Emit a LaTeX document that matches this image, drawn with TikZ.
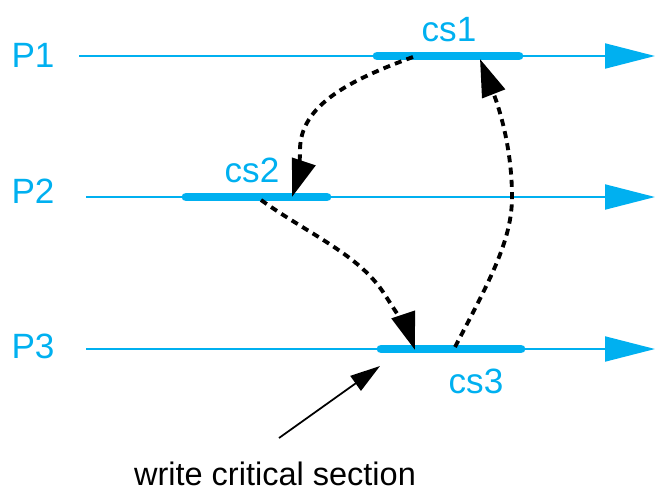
\documentclass[tikz,border=0pt]{standalone}
\usepackage{fontspec}
\setmainfont{Liberation Sans}
\usepackage{xcolor}
\usetikzlibrary{positioning,calc,arrows.meta}
\definecolor{procblue}{RGB}{0,176,240}

\begin{document}
\begin{tikzpicture}[x=0.02cm, y=-0.02cm,
		proc/.style={draw=procblue, line width=1.1pt, -{Triangle[length=1cm, width=0.5cm]}},
		csbar/.style={draw=procblue, line width=5pt, line cap=round},
		lbl/.style={text=procblue, font=\fontsize{20}{24}\selectfont, inner sep=0pt},
		msg/.style={line width=2.2pt, dash pattern=on 4pt off 3pt, -{Triangle[length=0.75cm, width=0.48cm]}}]
			\useasboundingbox (0,0) rectangle (655,490);
			% processes
			\node[name=P1, lbl] at (33,55) {P1};
			\node[name=P2, lbl] at (33,191) {P2};
			\node[name=P3, lbl] at (33,346) {P3};
			\coordinate (p1s) at (79,56);  \coordinate (p1e) at (655,56);
			\coordinate (p2s) at (86,197); \coordinate (p2e) at (655,197);
			\coordinate (p3s) at (86,349); \coordinate (p3e) at (655,349);
			\draw[proc] (p1s) -- (p1e);
			\draw[proc] (p2s) -- (p2e);
			\draw[proc] (p3s) -- (p3e);
			% critical sections
			\coordinate (cs1a) at (377,56);  \coordinate (cs1b) at (519,56);
			\coordinate (cs2a) at (186,197); \coordinate (cs2b) at (327,197);
			\coordinate (cs3a) at (381,349); \coordinate (cs3b) at (521,349);
			\draw[csbar] (cs1a) -- (cs1b);
			\draw[csbar] (cs2a) -- (cs2b);
			\draw[csbar] (cs3a) -- (cs3b);
			\node[name=cs1, lbl] at (449,30) {cs1};
			\node[name=cs2, lbl] at (252,170) {cs2};
			\node[name=cs3, lbl] at (476,381) {cs3};
			% messages
			\coordinate (m1s) at (413,57);  \coordinate (m1e) at (292,197);
			\coordinate (m2s) at (261,200); \coordinate (m2e) at (415,350);
			\coordinate (m3s) at (455,347); \coordinate (m3e) at (480,59);
			\draw[msg] (m1s) .. controls (350,80) and (300,105) .. (300,150) .. controls (300,170) and (296,185) .. (m1e);
			\draw[msg] (m2s) .. controls (310,235) and (360,255) .. (385,295) .. controls (400,318) and (410,335) .. (m2e);
			\draw[msg] (m3s) .. controls (490,280) and (512,240) .. (512,197) .. controls (512,150) and (500,110) .. (m3e);
			% note
			\node[name=note, font=\fontsize{18.5}{22}\selectfont, inner sep=0pt] at (275,474) {write critical section};
			\coordinate (n0) at (279,438);
			\draw[line width=1pt, -{Triangle[length=0.6cm, width=0.36cm]}] (n0) -- (380,366);
		\end{tikzpicture}
\end{document}
